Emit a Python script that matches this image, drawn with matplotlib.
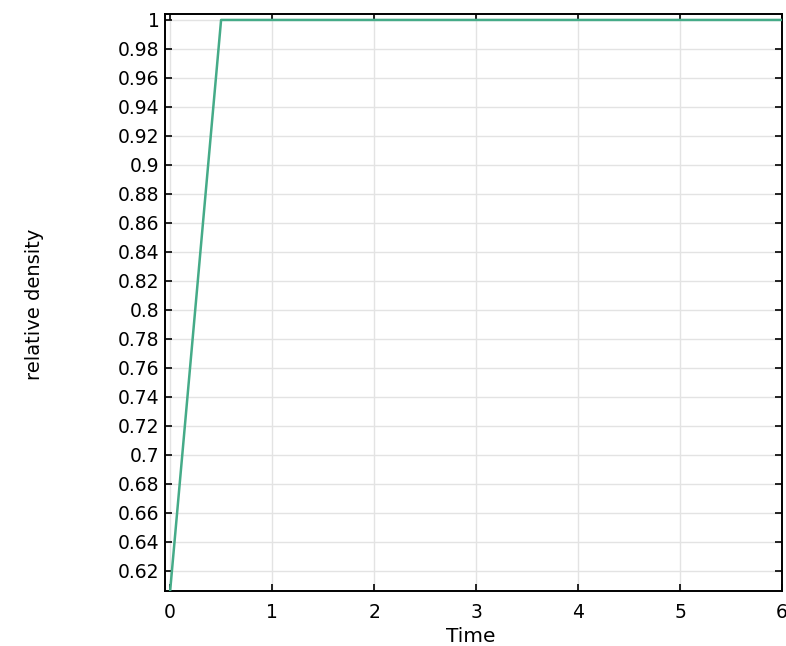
import matplotlib.pyplot as plt
import numpy as np

# data
time = [0.0, 0.5, 6.0]
rel_density = [0.606, 1.0, 1.0]
yticks = np.round(np.arange(0.62, 1.0001, 0.02), 2)
ytick_labels = ['%g' % v for v in yticks]
xticks = [0, 1, 2, 3, 4, 5, 6]

fig = plt.figure(figsize=(7.86, 6.46), dpi=100)
ax = fig.add_axes([165 / 786, 1 - 591 / 646, 617 / 786, 577 / 646])

ax.plot(time, rel_density, color='#45ab88', linewidth=1.8, zorder=3)

ax.set_xlim(-0.05, 6.0)
ax.set_ylim(0.6062, 1.0041)
ax.set_xticks(xticks)
ax.set_yticks(yticks)
ax.set_yticklabels(ytick_labels)
ax.grid(True, color='#e3e3e3', linewidth=1.0)
ax.set_axisbelow(True)

ax.tick_params(direction='in', top=True, right=True, length=5, width=1.2,
               labelsize=13.5, colors='black')
ax.tick_params(axis='x', pad=9)
ax.tick_params(axis='y', pad=4)
for s in ax.spines.values():
    s.set_linewidth(1.4)

ax.set_xlabel('Time', fontsize=14.5)
ax.set_ylabel('relative density', fontsize=14)
ax.xaxis.set_label_coords(0.495, -0.063)
ax.yaxis.set_label_coords(-0.196, 0.496)

fig.savefig('out.png', dpi=100)
